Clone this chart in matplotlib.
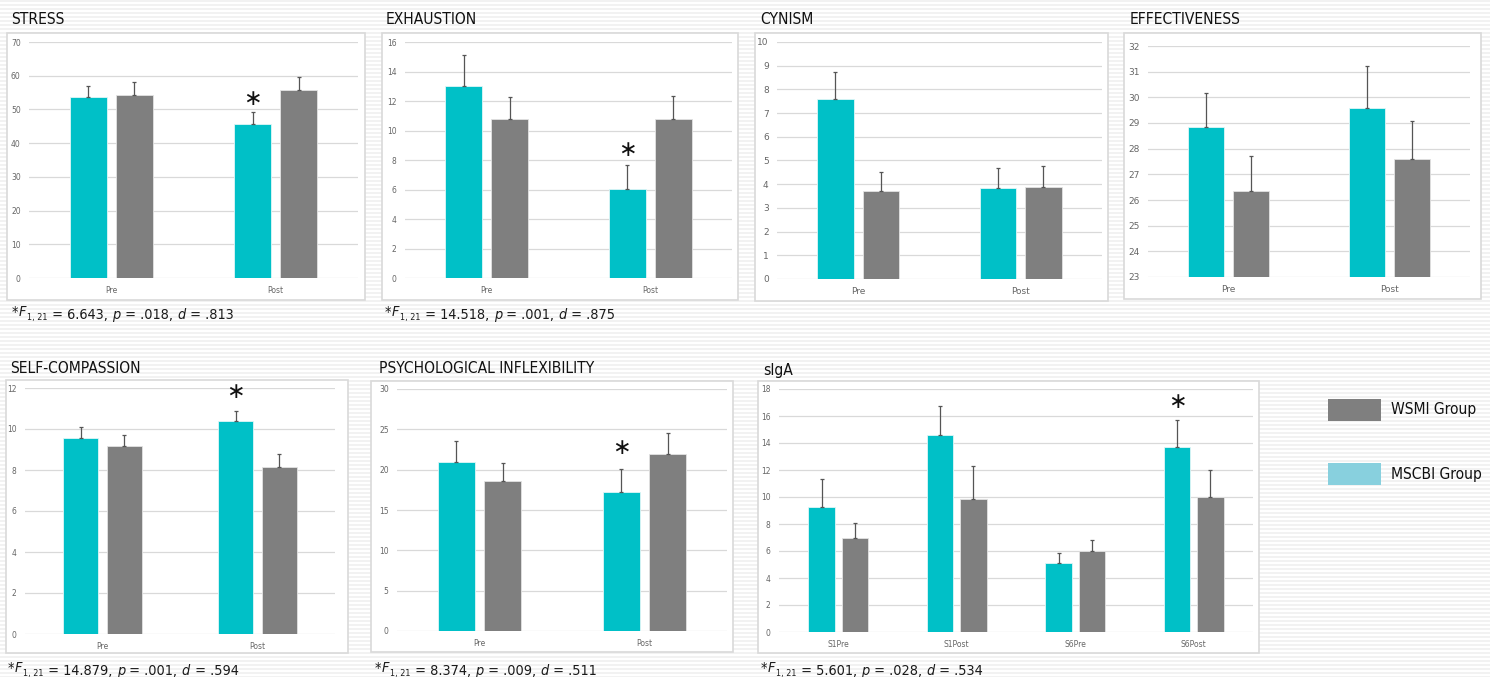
import numpy as np
import matplotlib
matplotlib.use("Agg")
import matplotlib.pyplot as plt
from matplotlib.patches import Rectangle

W, H = 1490, 677
CYAN = "#00c0c7"
GREY = "#7f7f7f"
LEG_CYAN = "#88d0de"
TFONT = dict(family="DejaVu Sans", fontstretch="condensed")

groups = ["WSMI Group", "MSCBI Group"]
prepost = ["Pre", "Post"]
sessions = ["S1Pre", "S1Post", "S6Pre", "S6Post"]

# means and standard errors (MSCBI = cyan, WSMI = grey)
stress_mscbi = [53.6, 45.8]
stress_mscbi_se = [3.3, 3.4]
stress_wsmi = [54.2, 55.8]
stress_wsmi_se = [4.0, 3.7]

exh_mscbi = [13.05, 6.06]
exh_mscbi_se = [2.09, 1.58]
exh_wsmi = [10.8, 10.8]
exh_wsmi_se = [1.48, 1.57]

cyn_mscbi = [7.6, 3.82]
cyn_mscbi_se = [1.14, 0.87]
cyn_wsmi = [3.71, 3.9]
cyn_wsmi_se = [0.8, 0.85]

eff_mscbi = [28.84, 29.58]
eff_mscbi_se = [1.32, 1.63]
eff_wsmi = [26.35, 27.61]
eff_wsmi_se = [1.36, 1.45]

sc_mscbi = [9.56, 10.4]
sc_mscbi_se = [0.54, 0.47]
sc_wsmi = [9.19, 8.16]
sc_wsmi_se = [0.52, 0.63]

pi_mscbi = [20.94, 17.17]
pi_mscbi_se = [2.6, 2.89]
pi_wsmi = [18.58, 21.93]
pi_wsmi_se = [2.27, 2.56]

iga_mscbi = [9.24, 14.56, 5.08, 13.69]
iga_mscbi_se = [2.07, 2.2, 0.74, 1.98]
iga_wsmi = [7.0, 9.83, 5.97, 10.03]
iga_wsmi_se = [1.07, 2.48, 0.81, 1.97]

# F statistic, p and Cohen's d for the starred comparisons
stats = {
    "STRESS": ("6.643", ".018", ".813"),
    "EXHAUSTION": ("14.518", ".001", ".875"),
    "SELF-COMPASSION": ("14.879", ".001", ".594"),
    "PSYCHOLOGICAL INFLEXIBILITY": ("8.374", ".009", ".511"),
    "sIgA": ("5.601", ".028", ".534"),
}


def frac(x0, y0, x1, y1):
    return [x0 / W, 1 - y1 / H, (x1 - x0) / W, (y1 - y0) / H]


fig = plt.figure(figsize=(W / 100, H / 100), dpi=100)

# striped page background
bg = fig.add_axes([0, 0, 1, 1], zorder=-10)
rows = np.ones((H, 1, 3))
rows[np.arange(H) % 4 < 2] = 0.95
bg.imshow(rows, aspect="auto", interpolation="nearest", extent=[0, 1, 0, 1])
bg.axis("off")
bg.set_xlim(0, 1)
bg.set_ylim(0, 1)


def footnote(x, y, vals, fs=10.4):
    # "*F(1,21) = .., p = .., d = .." written piece by piece
    parts = [("*", "normal", fs, 0), ("F", "italic", fs, 0),
             ("1, 21", "normal", fs * 0.62, -2.5),
             (" = %s, " % vals[0], "normal", fs, 0), ("p", "italic", fs, 0),
             (" = %s, " % vals[1], "normal", fs, 0), ("d", "italic", fs, 0),
             (" = %s" % vals[2], "normal", fs, 0)]
    prev = bg.text(x / W, 1 - y / H, parts[0][0], ha="left", va="baseline",
                   fontsize=fs, color="#1a1a1a", **TFONT)
    base = prev
    for txt, style, size, dy in parts[1:]:
        t = bg.annotate(txt, xy=(1, 0), xycoords=prev, xytext=(0.3, dy),
                        textcoords="offset points", ha="left", va="bottom",
                        fontsize=size, style=style, color="#1a1a1a", **TFONT)
        prev = t
    return base


def panel(box, area, title, title_xy, cats, cy, cy_se, gr, gr_se, ylim, step,
          star=None, note_xy=None, tick_fs=5.5):
    fig.add_artist(Rectangle((box[0] / W, 1 - box[3] / H),
                             (box[2] - box[0]) / W, (box[3] - box[1]) / H,
                             transform=fig.transFigure, facecolor="white",
                             edgecolor="#d9d9d9", lw=1.2, zorder=-5))
    ax = fig.add_axes(frac(*area))
    ax.set_facecolor("none")
    n = len(cats)
    x = np.arange(n)
    w, off = 0.225, 0.14
    ax.bar(x - off, cy, w, color=CYAN, edgecolor="#dff6f7", lw=0.6, zorder=2)
    ax.bar(x + off, gr, w, color=GREY, edgecolor="#e3e3e3", lw=0.6, zorder=2)
    for xs, v, e in ((x - off, cy, cy_se), (x + off, gr, gr_se)):
        ax.errorbar(xs, v, yerr=[np.zeros(n), e], fmt="none", ecolor="#555555",
                    elinewidth=0.9, capsize=1.5, capthick=0.9, zorder=3)
    ax.set_xlim(-0.5, n - 0.5)
    ax.set_ylim(*ylim)
    ax.set_yticks(np.arange(ylim[0], ylim[1] + step / 2, step))
    ax.set_xticks(x)
    ax.set_xticklabels(cats)
    ax.grid(axis="y", color="#d9d9d9", lw=0.9)
    ax.set_axisbelow(True)
    for s in ax.spines.values():
        s.set_visible(False)
    ax.tick_params(length=0, labelsize=tick_fs, labelcolor="#666666")
    ax.tick_params(axis="y", pad=6)
    ax.tick_params(axis="x", pad=6)
    if star is not None:
        i, yv = star
        ax.text(i - off, yv, "\u2217", ha="center", va="center", fontsize=16,
                family="DejaVu Sans", color="#111111")
    fig.text(title_xy[0] / W, 1 - title_xy[1] / H, title, ha="left",
             va="center", fontsize=11.2, color="#111111", **TFONT)
    if note_xy is not None:
        footnote(note_xy[0], note_xy[1], stats[title])
    return ax


panel((7, 33, 365, 300), (29, 42, 358, 278), "STRESS", (11, 20), prepost,
      stress_mscbi, stress_mscbi_se, stress_wsmi, stress_wsmi_se, (0, 70), 10,
      star=(1, 53.2), note_xy=(12, 316))
panel((382, 33, 738, 300), (405, 42, 732, 278), "EXHAUSTION", (386, 20), prepost,
      exh_mscbi, exh_mscbi_se, exh_wsmi, exh_wsmi_se, (0, 16), 2,
      star=(1, 8.7), note_xy=(385, 316))
panel((755, 33, 1108, 301), (777, 42, 1102, 279), "CYNISM", (760, 20), prepost,
      cyn_mscbi, cyn_mscbi_se, cyn_wsmi, cyn_wsmi_se, (0, 10), 1, tick_fs=6.5)
panel((1124, 33, 1481, 299), (1148, 46, 1470, 277), "EFFECTIVENESS", (1130, 20),
      prepost, eff_mscbi, eff_mscbi_se, eff_wsmi, eff_wsmi_se, (23, 32), 1,
      tick_fs=6.5)
panel((6, 380, 348, 653), (25, 388, 335, 634), "SELF-COMPASSION", (10, 368),
      prepost, sc_mscbi, sc_mscbi_se, sc_wsmi, sc_wsmi_se, (0, 12), 2,
      star=(1, 11.8), note_xy=(8, 672))
panel((371, 381, 733, 652), (397, 389, 727, 631), "PSYCHOLOGICAL INFLEXIBILITY",
      (379, 368), prepost, pi_mscbi, pi_mscbi_se, pi_wsmi, pi_wsmi_se, (0, 30), 5,
      star=(1, 22.7), note_xy=(375, 672))
panel((758, 381, 1259, 653), (779, 389, 1253, 632), "sIgA", (763, 370), sessions,
      iga_mscbi, iga_mscbi_se, iga_wsmi, iga_wsmi_se, (0, 18), 2,
      star=(3, 17.0), note_xy=(761, 672))

# group key on the right
for (label, col), ytop in zip(((groups[0], GREY), (groups[1], LEG_CYAN)), (399, 463)):
    fig.add_artist(Rectangle((1328 / W, 1 - (ytop + 22) / H), 53 / W, 22 / H,
                             transform=fig.transFigure, facecolor=col,
                             edgecolor="none", zorder=-4))
    fig.text(1391 / W, 1 - (ytop + 11) / H, label, ha="left", va="center",
             fontsize=11.2, color="#111111", **TFONT)

fig.savefig("out.png", dpi=100)
